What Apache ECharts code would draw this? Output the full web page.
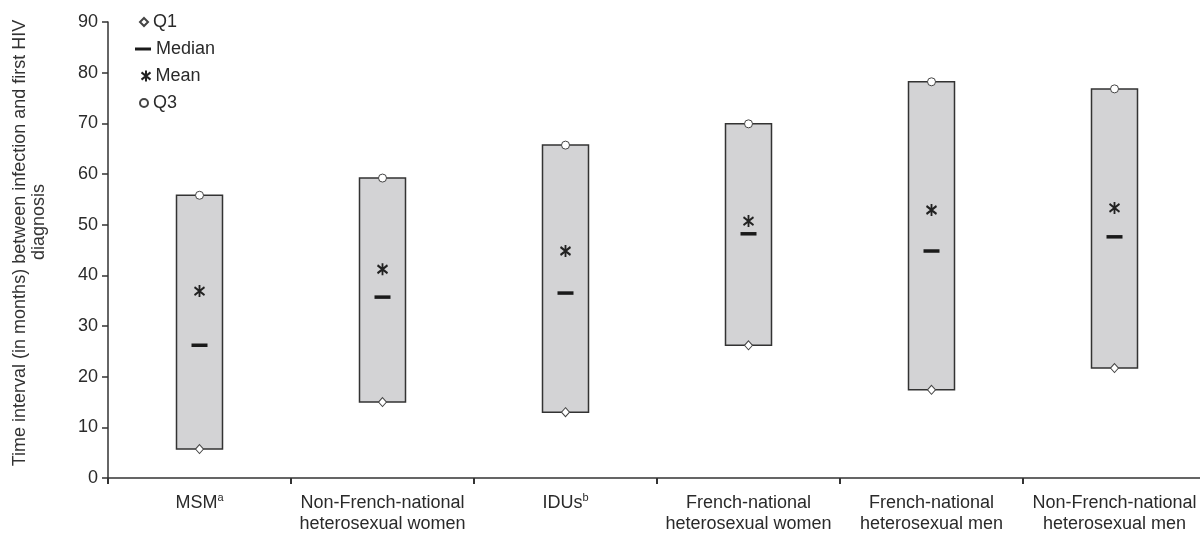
<!DOCTYPE html>
<html>
<head>
<meta charset="utf-8">
<style>html,body{margin:0;padding:0;background:#fff;}#chart{width:1200px;height:533px;}</style>
<script src="https://cdn.jsdelivr.net/npm/echarts@6/dist/echarts.min.js"></script>
</head>
<body>
<div id="chart"></div>
<script>
var categories = ['MSM{sup|a}', 'Non-French-national\nheterosexual women', 'IDUs{sup|b}', 'French-national\nheterosexual women', 'French-national\nheterosexual men', 'Non-French-national\nheterosexual men'];
var q1 = [5.7, 15.0, 13.0, 26.2, 17.4, 21.7];
var median = [26.2, 35.7, 36.5, 48.2, 44.8, 47.6];
var mean = [36.9, 41.2, 44.8, 50.7, 52.9, 53.3];
var q3 = [55.8, 59.2, 65.7, 69.9, 78.2, 76.8];
var yTicks = [0, 10, 20, 30, 40, 50, 60, 70, 80, 90];

var FONT = 'Liberation Sans, Arial, sans-serif';
var TXT = '#2a2a2a';
var asterisk = 'path://M5,0 L5,12 M0,2 L10,10 M10,2 L0,10';

var chart = echarts.init(document.getElementById('chart'));
var boxData = categories.map(function (c, i) { return [i, q1[i], q3[i]]; });

function legendAt(name, top, left, w, h) {
  return {
    data: [name], orient: 'vertical', left: left, top: top,
    itemWidth: w, itemHeight: h, itemGap: 5, padding: 0,
    textStyle: { fontSize: 18, fontFamily: FONT, color: TXT },
    selectedMode: false
  };
}

chart.setOption({
  animation: false,
  backgroundColor: '#fff',
  grid: { left: 108, top: 22, width: 1098, height: 456, outerBoundsMode: 'none', containLabel: false },
  legend: [
    legendAt('Q1', 13, 139, 8, 8),
    legendAt('Median', 40, 135, 16, 3),
    legendAt('Mean', 67, 139, 9, 11),
    legendAt('Q3', 94, 139, 8, 8)
  ],
  xAxis: {
    type: 'category',
    data: categories,
    boundaryGap: true,
    axisLine: { lineStyle: { color: '#333', width: 1.5 } },
    axisTick: { show: true, inside: false, length: 6, lineStyle: { color: '#333', width: 2 } },
    axisLabel: {
      interval: 0, margin: 15, fontSize: 18, lineHeight: 21, fontFamily: FONT, color: TXT,
      rich: { sup: { fontSize: 11, fontFamily: FONT, color: TXT, padding: [0, 0, 11, 0] } }
    },
    splitLine: { show: false }
  },
  yAxis: {
    type: 'value', min: 0, max: 90, interval: 10,
    name: '{l1|Time interval (in months) between infection and first HIV}\n{l2|diagnosis}',
    nameLocation: 'middle', nameRotate: 90, nameGap: 59,
    nameTextStyle: {
      fontSize: 18, fontFamily: FONT, color: '#333', lineHeight: 19, align: 'center', padding: [0, 0, 0, 14],
      rich: {
        l1: { fontSize: 18, fontFamily: FONT, color: '#333', lineHeight: 19 },
        l2: { fontSize: 18, fontFamily: FONT, color: '#333', lineHeight: 19, padding: [0, 0, 0, 42] }
      }
    },
    axisLine: { show: true, lineStyle: { color: '#333', width: 1.5 } },
    axisTick: { show: true, inside: false, length: 6, lineStyle: { color: '#333', width: 1.5 } },
    axisLabel: { margin: 10, fontSize: 18, fontFamily: FONT, color: TXT,
      formatter: function (v) { return yTicks.indexOf(v) >= 0 ? String(v) : ''; } },
    splitLine: { show: false }
  },
  series: [
    {
      name: 'Box', type: 'custom', data: boxData, z: 1,
      encode: { x: 0, y: [1, 2] },
      renderItem: function (params, api) {
        var top = api.coord([api.value(0), api.value(2)]);
        var bot = api.coord([api.value(0), api.value(1)]);
        return {
          type: 'rect',
          shape: { x: top[0] - 23, y: top[1], width: 46, height: bot[1] - top[1] },
          style: { fill: '#d3d3d5', stroke: '#333', lineWidth: 1.5 }
        };
      }
    },
    {
      name: 'Q1', type: 'scatter', z: 3,
      data: categories.map(function (c, i) { return [i, q1[i]]; }),
      symbol: 'diamond', symbolSize: [8, 9],
      itemStyle: { color: '#fff', borderColor: '#444', borderWidth: 1, opacity: 1 }
    },
    {
      name: 'Median', type: 'scatter', z: 3,
      data: categories.map(function (c, i) { return [i, median[i]]; }),
      symbol: 'rect', symbolSize: [16, 3.5],
      itemStyle: { color: '#1a1a1a', opacity: 1 }
    },
    {
      name: 'Mean', type: 'scatter', z: 3,
      data: categories.map(function (c, i) { return [i, mean[i]]; }),
      symbol: asterisk, symbolSize: [10, 12],
      itemStyle: { color: 'none', borderColor: '#222', borderWidth: 2, opacity: 1 }
    },
    {
      name: 'Q3', type: 'scatter', z: 3,
      data: categories.map(function (c, i) { return [i, q3[i]]; }),
      symbol: 'circle', symbolSize: 8,
      itemStyle: { color: '#fff', borderColor: '#444', borderWidth: 1, opacity: 1 }
    }
  ]
});
</script>
</body>
</html>
